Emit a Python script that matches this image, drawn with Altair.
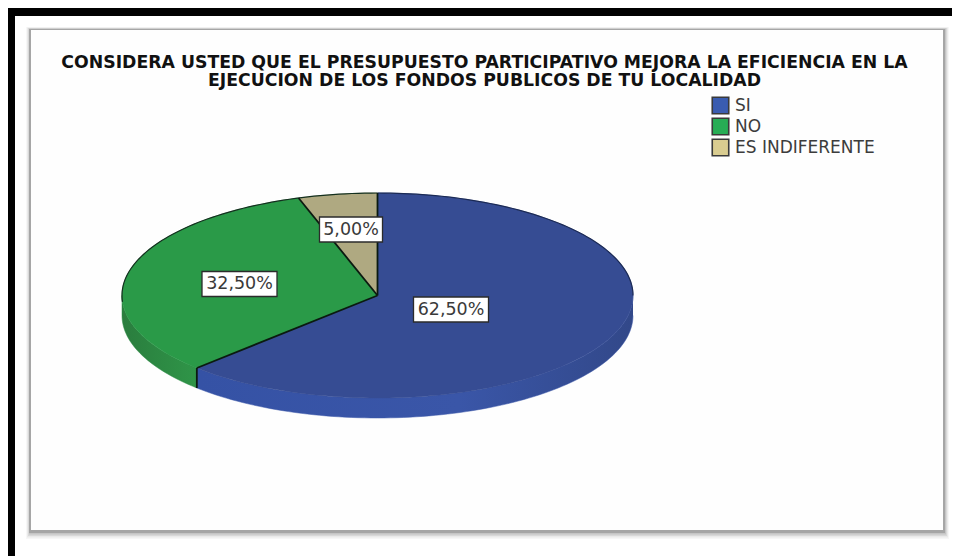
import math
import altair as alt
import pandas as pd

categories = ["SI", "NO", "ES INDIFERENTE"]
values = [62.5, 32.5, 5.0]
legend_colors = ["#3a5cb0", "#27ad55", "#d9cc90"]
top_colors = ["#364c93", "#2a9a48", "#afa981"]
title_lines = [
    "CONSIDERA USTED QUE EL PRESUPUESTO PARTICIPATIVO MEJORA LA EFICIENCIA EN LA",
    "EJECUCION DE LOS FONDOS PUBLICOS DE TU LOCALIDAD",
]
labels = [f"{v:.2f}%".replace(".", ",") for v in values]

# layout (screen pixels)
W, H = 944, 548
CX, CY, RX, RY, DEPTH = 377.5, 295.5, 255.5, 102.5, 20
label_centres = [(451, 309.5), (239.5, 284), (351, 229.5)]
BOX_W, BOX_H = 75, 25

xs = alt.Scale(domain=[8, 8 + W], range=[0, W])
ys = alt.Scale(domain=[8, 8 + H], range=[0, H])
X = alt.X("x:Q", scale=xs, axis=None)
Y = alt.Y("y:Q", scale=ys, axis=None)
ONE = alt.Data(values=[{"a": 1}])


def pt(frac, dy=0):
    t = 2 * math.pi * frac
    return CX + RX * math.sin(t), CY - RY * math.cos(t) + dy


def arc(a, b, dy=0, step=0.004):
    n = max(2, int(abs(b - a) / step) + 1)
    return [pt(a + (b - a) * i / (n - 1), dy) for i in range(n)]


def poly(points, **mark):
    df = pd.DataFrame(points, columns=["x", "y"])
    df["i"] = range(len(df))
    return alt.Chart(df).mark_line(**mark).encode(x=X, y=Y, order="i:Q")


def box(x0, x1, y0, y1, **mark):
    # fixed decoration in plot-area pixels
    return alt.Chart(ONE).mark_rect(**mark).encode(
        x=alt.value(x0 - 8), x2=alt.value(x1 - 8),
        y=alt.value(y0 - 8), y2=alt.value(y1 - 8))


layers = []

# page frame
layers.append(box(8, 15, 8, 556, color="black"))
layers.append(box(8, 952, 8, 16, color="black"))

# panel with soft shadow
for i, op in enumerate([0.03, 0.05, 0.07, 0.09]):
    layers.append(box(26 + i, 949 - i, 27 + 0.5 * i, 539 - 1.5 * i, color="black", opacity=op))
layers.append(box(29, 945, 29, 533, color="#a6a6a6"))
layers.append(box(31, 943, 30, 530, color="#fefefe"))

# slice fractions, clockwise from twelve o'clock
total = sum(values)
edges = [0]
for v in values:
    edges.append(edges[-1] + v / total)

# side wall
blue_grad = alt.Gradient(gradient="linear", x1=0, x2=1, y1=0, y2=0, stops=[
    alt.GradientStop(color="#3552a5", offset=0),
    alt.GradientStop(color="#3a56a8", offset=0.6),
    alt.GradientStop(color="#324889", offset=1)])
green_grad = alt.Gradient(gradient="linear", x1=0, x2=1, y1=0, y2=0, stops=[
    alt.GradientStop(color="#2a7d3e", offset=0),
    alt.GradientStop(color="#2f9548", offset=1)])
layers.append(poly(arc(0.25, edges[1]) + arc(edges[1], 0.25, DEPTH), fill=blue_grad, stroke="#3a56a8", strokeWidth=0.5))
layers.append(poly(arc(edges[1], 0.75) + arc(0.75, edges[1], DEPTH), fill=green_grad, stroke="#2a8a44", strokeWidth=0.5))

# top faces
for i in range(3):
    pts = [(CX, CY)] + arc(edges[i], edges[i + 1]) + [(CX, CY)]
    layers.append(poly(pts, fill=top_colors[i], stroke=top_colors[i], strokeWidth=0.5))

# rim and radii
layers.append(poly(arc(0.74, 1.0), stroke="#14301f", strokeWidth=1.2))
layers.append(poly(arc(0.0, 0.25), stroke="#1b2a55", strokeWidth=1.2))
for e in edges[:3]:
    layers.append(poly([(CX, CY), pt(e)], stroke="#0b1a10", strokeWidth=1.8))
layers.append(poly([pt(edges[1]), pt(edges[1], DEPTH)], stroke="#0b1a10", strokeWidth=1.8))

# value labels
lab = pd.DataFrame({
    "label": labels,
    "x": [c[0] for c in label_centres],
    "y": [c[1] for c in label_centres],
})
lab["x0"] = lab.x - BOX_W / 2
lab["x1"] = lab.x + BOX_W / 2
lab["y0"] = lab.y - BOX_H / 2
lab["y1"] = lab.y + BOX_H / 2
lab.loc[2, "x0"] = lab.loc[2, "x"] - 31.5
lab.loc[2, "x1"] = lab.loc[2, "x"] + 31.5
layers.append(alt.Chart(lab).mark_rect(fill="white", stroke="#2b2b2b", strokeWidth=1.3).encode(
    x=alt.X("x0:Q", scale=xs, axis=None), x2="x1:Q",
    y=alt.Y("y0:Q", scale=ys, axis=None), y2="y1:Q"))
layers.append(alt.Chart(lab).mark_text(font="DejaVu Sans", fontSize=17.5, color="#3a3a3a").encode(
    x=X, y=Y, text="label:N"))

# legend carrier
leg = pd.DataFrame({"cat": categories, "x": [CX] * 3, "y": [CY] * 3})
layers.append(alt.Chart(leg).mark_square(size=0, opacity=1).encode(
    x=X, y=Y,
    color=alt.Color("cat:N",
                    scale=alt.Scale(domain=categories, range=legend_colors),
                    legend=alt.Legend(
                        title=None, orient="none", legendX=703, legendY=88,
                        symbolType="square", symbolSize=272, symbolStrokeWidth=1.6,
                        symbolStrokeColor="#3a3a3a", symbolOpacity=1,
                        labelFont="DejaVu Sans", labelFontSize=17, labelColor="#3c3c3c",
                        labelOffset=5, rowPadding=-5, padding=0, labelLimit=260))))

chart = alt.layer(*layers).properties(
    width=W, height=H,
    padding=0,
    autosize=alt.AutoSizeParams(type="none"),
    title=alt.TitleParams(
        text=title_lines, anchor="middle", orient="top", offset=-95, dx=4.5,
        font="DejaVu Sans", fontSize=17.3, fontWeight="bold", color="#111111",
        lineHeight=18, baseline="alphabetic"),
).configure_view(stroke=None).configure(background="white")

chart.save("out.html", embed_options={"renderer": "svg", "actions": False})
